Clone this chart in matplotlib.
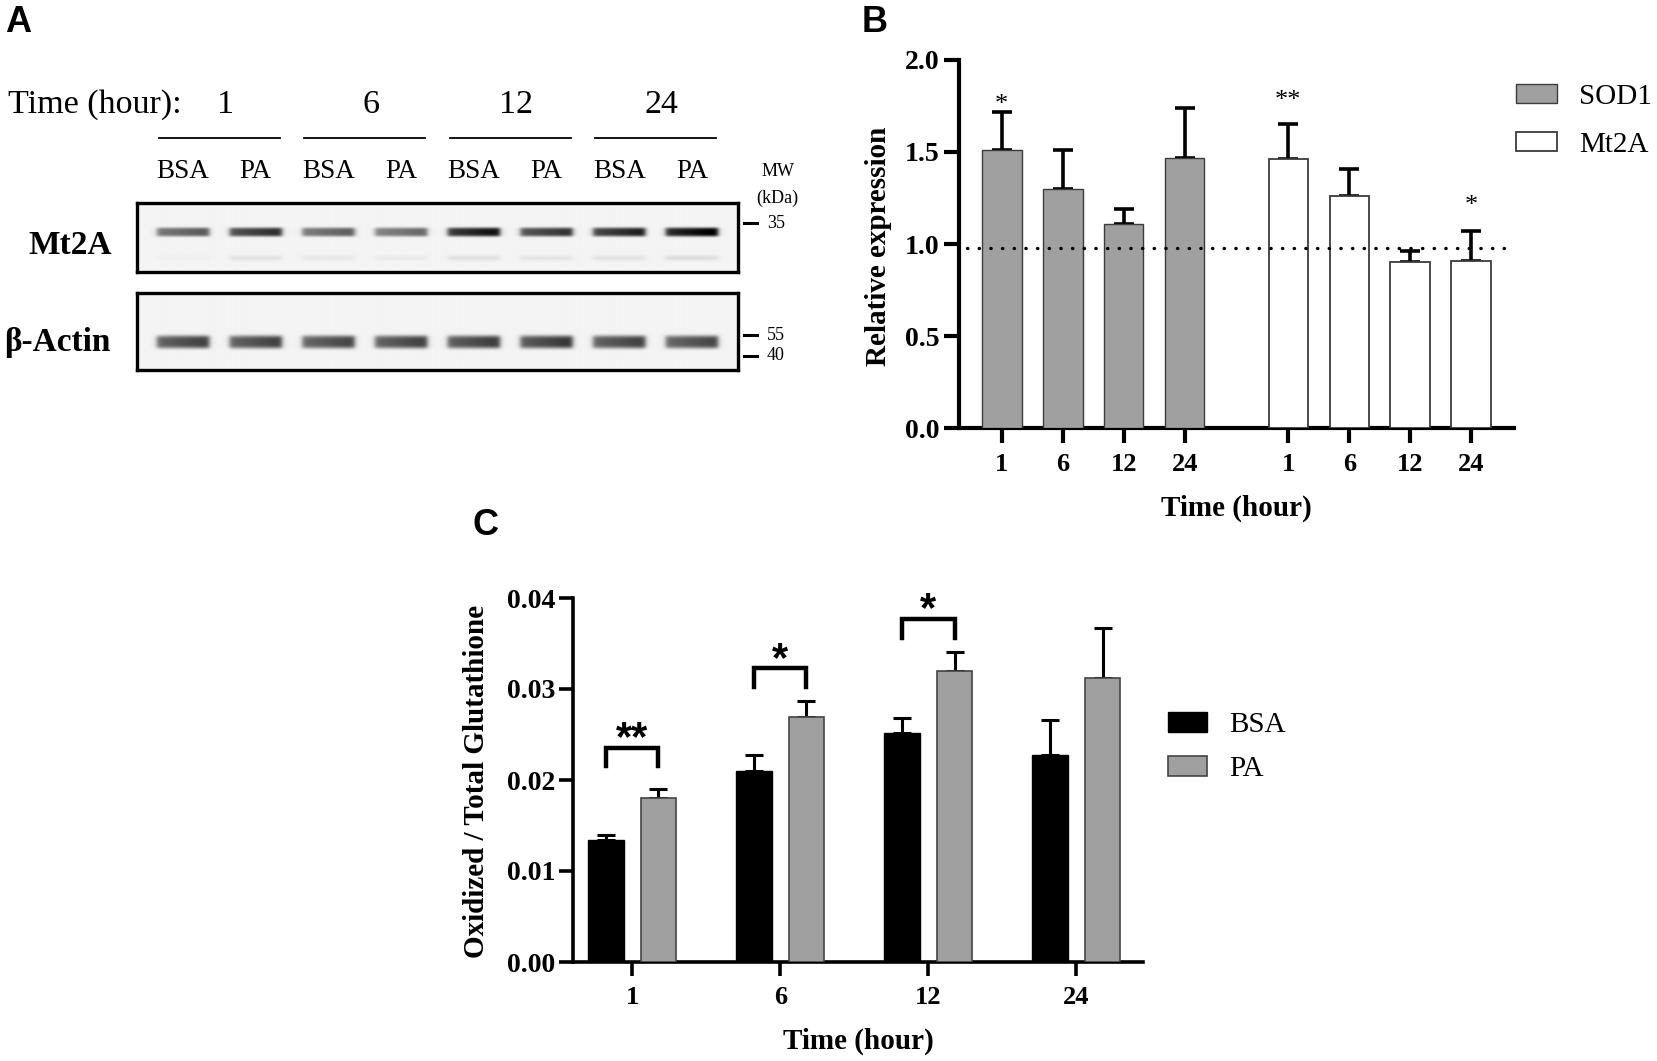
import numpy as np
import matplotlib
matplotlib.use('Agg')
import matplotlib.pyplot as plt
import matplotlib.transforms as mtransforms
from matplotlib.lines import Line2D

W, H = 1658, 1061
SERIF = ['Liberation Serif', 'DejaVu Serif']
SANS = ['Liberation Sans', 'DejaVu Sans']
plt.rcParams['font.family'] = SERIF

# ---------------- data ----------------
times = ['1', '6', '12', '24']
lanes = ['BSA', 'PA', 'BSA', 'PA', 'BSA', 'PA', 'BSA', 'PA']
mt2a_band = [0.62, 0.80, 0.60, 0.56, 0.92, 0.78, 0.86, 1.00]
mt2a_faint = [0.02, 0.07, 0.05, 0.04, 0.08, 0.06, 0.07, 0.09]
actin_band = [0.72, 0.72, 0.70, 0.72, 0.74, 0.76, 0.72, 0.70]
mw_mt2a = ['35']
mw_actin = ['55', '40']

sod1_mean = [1.51, 1.30, 1.11, 1.47]
sod1_err = [0.21, 0.21, 0.08, 0.27]
mt2a_mean = [1.46, 1.26, 0.90, 0.91]
mt2a_err = [0.19, 0.15, 0.06, 0.16]
ref_level = 0.98
sod1_sig = ['*', '', '', '']
mt2a_sig = ['**', '', '', '*']
sod1_sig_y = [1.80, 0, 0, 0]
mt2a_sig_y = [1.82, 0, 0, 1.25]

bsa_mean = [0.0134, 0.0210, 0.0252, 0.0227]
bsa_err = [0.0006, 0.0017, 0.0016, 0.0039]
pa_mean = [0.0180, 0.0269, 0.0320, 0.0312]
pa_err = [0.0010, 0.0018, 0.0021, 0.0055]
c_sig = ['**', '*', '*', '']
bracket_low = [0.0215, 0.0302, 0.0356, 0]
bracket_high = [0.0235, 0.0323, 0.0377, 0]
c_sig_y = [0.0259, 0.0346, 0.0401, 0]

fig = plt.figure(figsize=(W / 100, H / 100), dpi=100)


def fx(x):
    return x / W


def fy(y):
    return 1 - y / H


# ---------------- Panel A (western blot) ----------------
def blot_image(intens, band_y, band_h, faint=None, faint_y=None, height=70, nx=900):
    ny = int(height * 4)
    x = np.linspace(-0.63, 7.63, nx)
    y = np.linspace(0, height, ny)
    X, Y = np.meshgrid(x, y)
    img = np.full_like(X, 0.045)
    for i, v in enumerate(intens):
        hx = 0.5 * (np.tanh((X - (i - 0.36)) / 0.04) - np.tanh((X - (i + 0.36)) / 0.04))
        ramp = 0.78 + 0.22 * np.clip((X - (i - 0.36)) / 0.72, 0, 1)
        vy = np.exp(-((Y - band_y) / band_h) ** 4)
        img += v * hx * ramp * vy
        if faint is not None:
            vf = np.exp(-((Y - faint_y) / 2.5) ** 2)
            img += faint[i] * hx * vf
    return np.clip(img, 0, 1), height


def blot_axes(rect, img, height):
    ax = fig.add_axes(rect)
    ax.imshow(img, extent=(-0.63, 7.63, height, 0), aspect='auto', cmap='gray_r',
              vmin=0, vmax=1, interpolation='bilinear')
    ax.set_xlim(-0.63, 7.63)
    ax.set_ylim(height, 0)
    ax.set_xticks([])
    ax.set_yticks([])
    for s in ax.spines.values():
        s.set_linewidth(2.4)
        s.set_color('black')
    return ax


img_m, hm = blot_image(mt2a_band, 29, 4.5, mt2a_faint, 55, height=69)
axM = blot_axes([fx(137), fy(272), fx(601), 69 / H], img_m, hm)
img_a, ha = blot_image(actin_band, 49, 6.5, height=77)
axAct = blot_axes([fx(137), fy(370), fx(601), 77 / H], img_a, ha)

bt = mtransforms.blended_transform_factory(axM.transData, fig.transFigure)
fig.text(fx(5), fy(22), 'A', family=SANS, fontweight='bold', fontsize=26, va='center', ha='left')
fig.text(fx(8), fy(105), 'Time (hour):', fontsize=24.5, va='center', ha='left')
for g, t in enumerate(times):
    cx = 2 * g + 0.5
    fig.text(cx + 0.08, fy(105), t, fontsize=24.5, va='center', ha='center', transform=bt)
    fig.add_artist(Line2D([2 * g - 0.33, 2 * g + 1 + 0.33], [fy(138), fy(138)],
                          transform=bt, color='black', lw=1.3))
for i, lab in enumerate(lanes):
    fig.text(i, fy(172), lab, fontsize=19.5, va='center', ha='center', transform=bt)

fig.text(fx(70), fy(245), 'Mt2A', fontsize=24, fontweight='bold', va='center', ha='center')
fig.text(fx(57), fy(343), 'β-Actin', fontsize=24, fontweight='bold', va='center', ha='center')

fig.text(fx(778), fy(171), 'MW', fontsize=13, va='center', ha='center')
fig.text(fx(777), fy(198), '(kDa)', fontsize=13, va='center', ha='center')
for lab, yy in zip(mw_mt2a + mw_actin, [223, 335, 356]):
    fig.add_artist(Line2D([fx(744), fx(757)], [fy(yy), fy(yy)], transform=fig.transFigure,
                          color='black', lw=2.2))
    fig.text(fx(767), fy(yy), lab, fontsize=13, va='center', ha='left')

# ---------------- Panel B ----------------
fig.text(fx(862), fy(22), 'B', family=SANS, fontweight='bold', fontsize=26, va='center', ha='left')
axB = fig.add_axes([fx(959), fy(428), fx(1514 - 959), (428 - 60) / H])
xs = np.arange(len(times), dtype=float)
xm = xs + 4.7
bw = 0.65
axB.bar(xs, sod1_mean, width=bw, color='#a0a0a0', edgecolor='#3c3c3c', linewidth=1.0,
        label='SOD1', zorder=3)
axB.bar(xm, mt2a_mean, width=bw, color='white', edgecolor='#3c3c3c', linewidth=1.3,
        label='Mt2A', zorder=3)
axB.errorbar(xs, sod1_mean, yerr=[np.zeros(4), sod1_err], fmt='none', ecolor='black',
             elinewidth=2.6, capsize=7, capthick=2.6, zorder=2)
axB.errorbar(xm, mt2a_mean, yerr=[np.zeros(4), mt2a_err], fmt='none', ecolor='black',
             elinewidth=2.6, capsize=7, capthick=2.6, zorder=2)
axB.axhline(ref_level, xmin=0.014, xmax=0.987, color='black', lw=2.4,
            dashes=(0.1, 3.4), dash_capstyle='round', zorder=4)
for x, s, yv in zip(list(xs) + list(xm), sod1_sig + mt2a_sig, sod1_sig_y + mt2a_sig_y):
    if s:
        axB.annotate(s, xy=(x, yv), xytext=(0, -0.53 * 19), textcoords='offset points',
                     ha='center', va='baseline', fontsize=19, annotation_clip=False)
axB.set_xlim(-0.7, 8.4)
axB.set_ylim(0, 2.0)
axB.set_yticks([0, 0.5, 1.0, 1.5, 2.0])
axB.set_yticklabels(['0.0', '0.5', '1.0', '1.5', '2.0'], fontweight='bold', fontsize=20)
axB.set_xticks(list(xs) + list(xm))
axB.set_xticklabels(times + times, fontweight='bold', fontsize=19)
axB.spines['top'].set_visible(False)
axB.spines['right'].set_visible(False)
for s in ['left', 'bottom']:
    axB.spines[s].set_linewidth(3.0)
axB.tick_params(axis='both', direction='out', length=11, width=3.0)
axB.tick_params(axis='y', pad=3)
axB.tick_params(axis='x', pad=7)
axB.patch.set_alpha(0)
fig.text(fx(878), fy(246), 'Relative expression', rotation=90, fontsize=21,
         fontweight='bold', va='center', ha='center')
fig.text(fx(1236), fy(508), 'Time (hour)', fontsize=21, fontweight='bold',
         va='center', ha='center')
legB = axB.legend(loc='upper left', bbox_to_anchor=(fx(1516), fy(84)),
                  bbox_transform=fig.transFigure, frameon=False, fontsize=21,
                  handlelength=1.4, handleheight=0.65, handletextpad=0.75,
                  labelspacing=0.75, borderpad=0, borderaxespad=0)

# ---------------- Panel C ----------------
fig.text(fx(473), fy(525), 'C', family=SANS, fontweight='bold', fontsize=26, va='center', ha='left')
axC = fig.add_axes([fx(573), fy(962), fx(1143 - 573), (962 - 598) / H])
xg = np.arange(len(times), dtype=float)
off = 0.177
cw = 0.24
axC.bar(xg - off, bsa_mean, width=cw, color='black', edgecolor='black', linewidth=1,
        label='BSA', zorder=3)
axC.bar(xg + off, pa_mean, width=cw, color='#a0a0a0', edgecolor='#444444', linewidth=1.2,
        label='PA', zorder=3)
axC.errorbar(xg - off, bsa_mean, yerr=[np.zeros(4), bsa_err], fmt='none', ecolor='black',
             elinewidth=2.2, capsize=6.5, capthick=2.2, zorder=2)
axC.errorbar(xg + off, pa_mean, yerr=[np.zeros(4), pa_err], fmt='none', ecolor='black',
             elinewidth=2.2, capsize=6.5, capthick=2.2, zorder=2)
for g, s in enumerate(c_sig):
    if s:
        x1, x2 = xg[g] - off, xg[g] + off
        axC.plot([x1, x1, x2, x2], [bracket_low[g], bracket_high[g], bracket_high[g], bracket_low[g]],
                 color='black', lw=3.2, solid_joinstyle='miter', zorder=4, clip_on=False)
        axC.annotate(s, xy=(xg[g], c_sig_y[g]), xytext=(0, -0.58 * 30), textcoords='offset points',
                     ha='center', va='baseline', fontsize=30, family=SANS, fontweight='bold',
                     annotation_clip=False)
axC.set_xlim(-0.40, 3.45)
axC.set_ylim(0, 0.04)
axC.set_yticks([0, 0.01, 0.02, 0.03, 0.04])
axC.set_yticklabels(['0.00', '0.01', '0.02', '0.03', '0.04'], fontweight='bold', fontsize=20)
axC.set_xticks(xg)
axC.set_xticklabels(times, fontweight='bold', fontsize=19)
axC.spines['top'].set_visible(False)
axC.spines['right'].set_visible(False)
for s in ['left', 'bottom']:
    axC.spines[s].set_linewidth(2.6)
axC.tick_params(axis='both', direction='out', length=10, width=2.6)
axC.tick_params(axis='y', pad=3)
axC.tick_params(axis='x', pad=7)
axC.patch.set_alpha(0)
fig.text(fx(477), fy(781), 'Oxidized / Total Glutathione', rotation=90, fontsize=21,
         fontweight='bold', va='center', ha='center')
fig.text(fx(858), fy(1041), 'Time (hour)', fontsize=21, fontweight='bold',
         va='center', ha='center')
legC = axC.legend(loc='upper left', bbox_to_anchor=(fx(1168), fy(712)),
                  bbox_transform=fig.transFigure, frameon=False, fontsize=21,
                  handlelength=1.35, handleheight=0.68, handletextpad=0.75,
                  labelspacing=0.6, borderpad=0, borderaxespad=0)

fig.savefig('out.png', dpi=100, facecolor='white')
